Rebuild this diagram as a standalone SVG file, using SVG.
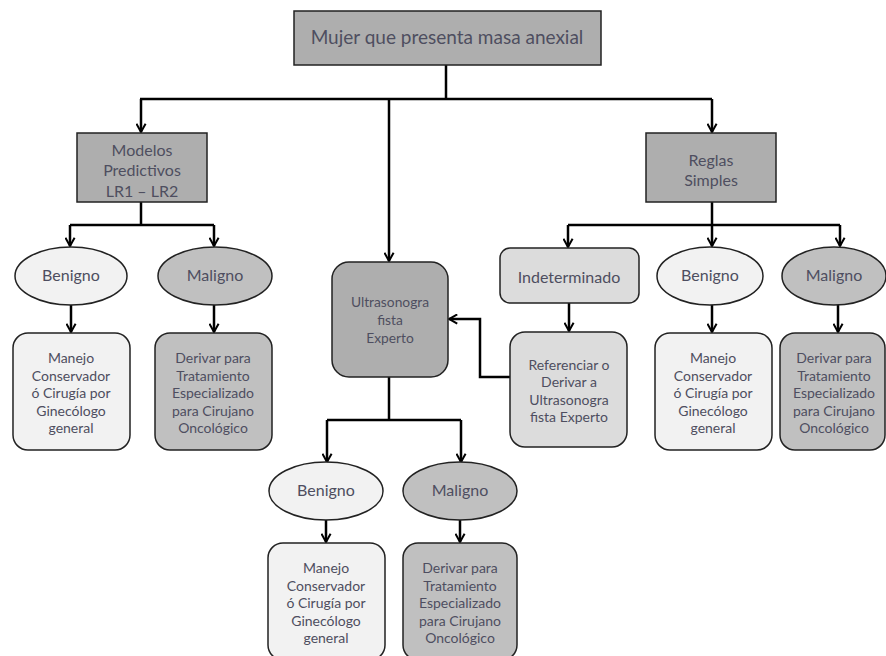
<svg xmlns="http://www.w3.org/2000/svg" width="886" height="656" viewBox="0 0 886 656">
<defs>
<marker id="arr" viewBox="0 0 12 12" refX="11" refY="6" markerWidth="11" markerHeight="11" markerUnits="userSpaceOnUse" orient="auto">
<polyline points="2,1 11,6 2,11" fill="none" stroke="#000" stroke-width="2.2"/>
</marker>
<style>
.t{font-family:Lato,"Open Sans",sans-serif;fill:#4e4e60;text-anchor:middle}
.big{font-size:19px}
.m{font-size:16px}
.s{font-size:14px}
.xs{font-size:13.8px}
.dk{fill:#aeaeae;stroke:#222;stroke-width:1.5}
.md{fill:#c0c0c0;stroke:#222;stroke-width:1.5}
.lt{fill:#f2f2f2;stroke:#222;stroke-width:1.5}
.gr{fill:#dcdcdc;stroke:#222;stroke-width:1.5}
.c{fill:none;stroke:#000;stroke-width:2.5}
.a{marker-end:url(#arr)}
</style>
</defs>
<rect width="886" height="656" fill="#fff"/>
<g id="connectors">
<polyline class="c" points="446,65 446,99"/>
<polyline class="c" points="140,99 712,99"/>
<polyline class="c a" points="141,99 141,132"/>
<polyline class="c a" points="389,99 389,261"/>
<polyline class="c a" points="712,99 712,132"/>
<polyline class="c" points="141,202 141,225"/>
<polyline class="c" points="70,225 214,225"/>
<polyline class="c a" points="70,225 70,246"/>
<polyline class="c a" points="214,225 214,246"/>
<polyline class="c a" points="71,305 71,332"/>
<polyline class="c a" points="214,305 214,332"/>
<polyline class="c" points="712,202 712,225"/>
<polyline class="c" points="568,225 840,225"/>
<polyline class="c a" points="568,225 568,247"/>
<polyline class="c a" points="712,225 712,246"/>
<polyline class="c a" points="840,225 840,246"/>
<polyline class="c a" points="569,303 569,331"/>
<polyline class="c a" points="712,305 712,332"/>
<polyline class="c a" points="838,305 838,332"/>
<polyline class="c a" points="510,377 480,377 480,319 449,319"/>
<polyline class="c" points="389,377 389,420"/>
<polyline class="c" points="327,420 461,420"/>
<polyline class="c a" points="327,420 327,462"/>
<polyline class="c a" points="461,420 461,462"/>
<polyline class="c a" points="326,520 326,542"/>
<polyline class="c a" points="460,520 460,542"/>
</g>
<g id="n_root">
<rect class="dk" x="294" y="11" width="307" height="54"/>
<text class="t big" x="447" y="44">Mujer que presenta masa anexial</text>
</g>
<g id="n_modelos">
<rect class="dk" x="77" y="133" width="130" height="69"/>
<text class="t m" x="142" y="156">Modelos</text>
<text class="t m" x="142" y="176">Predictivos</text>
<text class="t m" x="142" y="197">LR1 – LR2</text>
</g>
<g id="n_reglas">
<rect class="dk" x="646" y="133" width="130" height="69"/>
<text class="t m" x="711" y="166">Reglas</text>
<text class="t m" x="711" y="186">Simples</text>
</g>
<g id="n_ben1">
<ellipse class="lt" cx="71" cy="276" rx="56" ry="29"/>
<text class="t m" x="71" y="281">Benigno</text>
</g>
<g id="n_mal1">
<ellipse class="md" cx="215" cy="276" rx="57" ry="29"/>
<text class="t m" x="215" y="281">Maligno</text>
</g>
<g id="n_man1">
<rect class="lt" x="13" y="333" width="117" height="117" rx="15"/>
<text class="t s" x="71" y="363">Manejo</text>
<text class="t s" x="71" y="380.5">Conservador</text>
<text class="t s" x="71" y="398">ó Cirugía por</text>
<text class="t s" x="71" y="415.5">Ginecólogo</text>
<text class="t s" x="71" y="433">general</text>
</g>
<g id="n_der1">
<rect class="md" x="155" y="333" width="117" height="117" rx="15"/>
<text class="t s" x="213" y="363">Derivar para</text>
<text class="t s" x="213" y="380.5">Tratamiento</text>
<text class="t s" x="213" y="398">Especializado</text>
<text class="t s" x="213" y="415.5">para Cirujano</text>
<text class="t s" x="213" y="433">Oncológico</text>
</g>
<g id="n_ultra">
<rect class="dk" x="332" y="262" width="116" height="115" rx="17"/>
<text class="t xs" x="390" y="307">Ultrasonogra</text>
<text class="t xs" x="390" y="325">fista</text>
<text class="t xs" x="390" y="343">Experto</text>
</g>
<g id="n_indet">
<rect class="gr" x="500" y="248" width="139" height="55" rx="10"/>
<text class="t m" x="569" y="283">Indeterminado</text>
</g>
<g id="n_ref">
<rect class="gr" x="510" y="332" width="117" height="115" rx="15"/>
<text class="t s" x="569" y="369.5">Referenciar o</text>
<text class="t s" x="569" y="387">Derivar a</text>
<text class="t s" x="569" y="404.5">Ultrasonogra</text>
<text class="t s" x="569" y="422">fista Experto</text>
</g>
<g id="n_ben2">
<ellipse class="lt" cx="710" cy="276" rx="53" ry="29"/>
<text class="t m" x="710" y="281">Benigno</text>
</g>
<g id="n_mal2">
<ellipse class="md" cx="834" cy="276" rx="52" ry="29"/>
<text class="t m" x="834" y="281">Maligno</text>
</g>
<g id="n_man2">
<rect class="lt" x="655" y="333" width="117" height="117" rx="15"/>
<text class="t s" x="713" y="363">Manejo</text>
<text class="t s" x="713" y="380.5">Conservador</text>
<text class="t s" x="713" y="398">ó Cirugía por</text>
<text class="t s" x="713" y="415.5">Ginecólogo</text>
<text class="t s" x="713" y="433">general</text>
</g>
<g id="n_der2">
<rect class="md" x="780" y="333" width="105" height="117" rx="15"/>
<text class="t s" x="834" y="363">Derivar para</text>
<text class="t s" x="834" y="380.5">Tratamiento</text>
<text class="t s" x="834" y="398">Especializado</text>
<text class="t s" x="834" y="415.5">para Cirujano</text>
<text class="t s" x="834" y="433">Oncológico</text>
</g>
<g id="n_ben3">
<ellipse class="lt" cx="326" cy="491" rx="57" ry="29"/>
<text class="t m" x="326" y="496">Benigno</text>
</g>
<g id="n_mal3">
<ellipse class="md" cx="460" cy="491" rx="57" ry="29"/>
<text class="t m" x="460" y="496">Maligno</text>
</g>
<g id="n_man3">
<rect class="lt" x="268" y="543" width="117" height="117" rx="15"/>
<text class="t s" x="326" y="573">Manejo</text>
<text class="t s" x="326" y="590.5">Conservador</text>
<text class="t s" x="326" y="608">ó Cirugía por</text>
<text class="t s" x="326" y="625.5">Ginecólogo</text>
<text class="t s" x="326" y="643">general</text>
</g>
<g id="n_der3">
<rect class="md" x="403" y="543" width="114" height="117" rx="15"/>
<text class="t s" x="460" y="573">Derivar para</text>
<text class="t s" x="460" y="590.5">Tratamiento</text>
<text class="t s" x="460" y="608">Especializado</text>
<text class="t s" x="460" y="625.5">para Cirujano</text>
<text class="t s" x="460" y="643">Oncológico</text>
</g>
</svg>
